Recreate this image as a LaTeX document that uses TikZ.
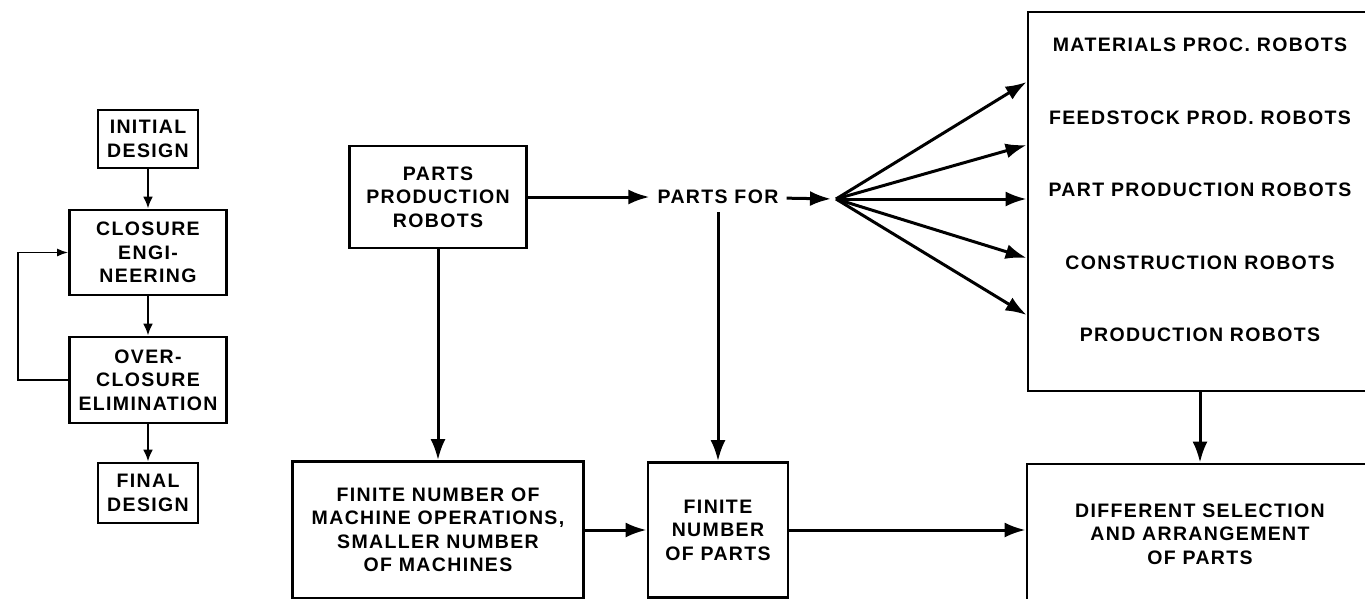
\documentclass[tikz,border=0pt]{standalone}
\usepackage{fontspec}
\newfontfamily\chartfont{Liberation Sans}[LetterSpace=7]
\usetikzlibrary{arrows.meta,positioning,calc}

\begin{document}
\begin{tikzpicture}[x=1pt,y=-1pt,>={Latex[length=21pt,width=15pt]},
    box/.style={draw,line width=2.8pt,align=center,inner sep=0pt,
      font=\chartfont\fontsize{19.5}{23.5}\selectfont\bfseries},
    txt/.style={inner sep=0pt,font=\chartfont\fontsize{19.5}{23.5}\selectfont\bfseries},
    flow/.style={line width=3pt},
    small/.style={line width=2.8pt,>={Latex[length=12pt,width=10pt]}}]
    \useasboundingbox (0,0) rectangle (1365,599);
    \clip (0,0) rectangle (1365,599);

    \node[box,minimum width=100pt,minimum height=58pt]  (init)    at (148,139)   {INITIAL\\DESIGN};
    \node[box,minimum width=157pt,minimum height=85pt]  (closure) at (148,252.5) {CLOSURE\\ENGI-\\NEERING};
    \node[box,minimum width=157pt,minimum height=86pt]  (over)    at (148,380)   {OVER-\\CLOSURE\\ELIMINATION};
    \node[box,minimum width=100pt,minimum height=60pt]  (final)   at (148,493)   {FINAL\\DESIGN};

    \node[box,minimum width=177pt,minimum height=102pt] (ppr)      at (438,197) {PARTS\\PRODUCTION\\ROBOTS};
    \node[txt,inner xsep=8pt,inner ysep=8pt]            (partsfor) at (718,197) {PARTS FOR};
    \coordinate (fan) at (836,199);

    \node[box,minimum width=344pt,minimum height=379pt] (robots)   at (1200,201.5) {};
    \node[txt] (matproc)   at (1200,45)  {MATERIALS PROC. ROBOTS};
    \node[txt] (feedstock) at (1200,118) {FEEDSTOCK PROD. ROBOTS};
    \node[txt] (partprod)  at (1200,190) {PART PRODUCTION ROBOTS};
    \node[txt] (construct) at (1200,263) {CONSTRUCTION ROBOTS};
    \node[txt] (prodrob)   at (1200,335) {PRODUCTION ROBOTS};

    \node[box,minimum width=291pt,minimum height=137pt] (machines) at (438,530)  {FINITE NUMBER OF\\MACHINE OPERATIONS,\\SMALLER NUMBER\\OF MACHINES};
    \node[box,minimum width=140pt,minimum height=135pt] (finparts) at (718,530)  {FINITE\\NUMBER\\OF PARTS};
    \node[box,minimum width=346pt,minimum height=140pt] (select)   at (1200,534) {DIFFERENT SELECTION\\AND ARRANGEMENT\\OF PARTS};

    \path[->,small]
    (init)    edge (closure)
    (closure) edge (over)
    (over)    edge (final)
    ;
    \draw[->,line width=1.5pt,>={Latex[length=11pt,width=8pt]}]
      (over.west) -- ++(-50,0) |- (closure.west);

    \path[->,flow]
    (ppr)      edge (partsfor)
    (partsfor) edge [shorten >=5pt] (fan)
    (ppr)      edge (machines)
    (partsfor) edge (finparts)
    (machines) edge (finparts)
    (robots)   edge (select)
    ;
    \draw[->,flow] (finparts) -- (finparts -| select.west);
    \foreach \y in {82,145,199,258,315}
      \draw[->,flow] (fan) -- (robots.west |- 0,\y);
\end{tikzpicture}
\end{document}
